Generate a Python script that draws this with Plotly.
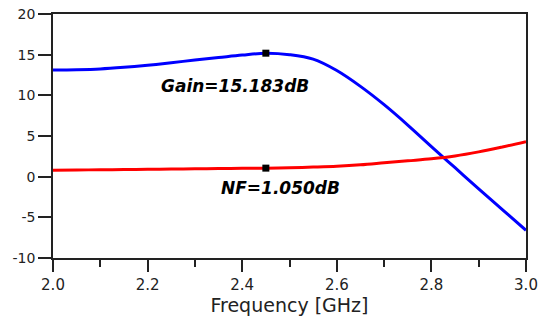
import plotly.graph_objects as go

freq = [2.00, 2.05, 2.10, 2.15, 2.20, 2.25, 2.30, 2.35, 2.40, 2.45, 2.50,
        2.55, 2.60, 2.65, 2.70, 2.75, 2.80, 2.85, 2.90, 2.95, 3.00]
gain_db = [13.10, 13.15, 13.25, 13.45, 13.70, 14.00, 14.35, 14.65, 14.95, 15.183, 15.00,
           14.45, 13.05, 11.10, 8.85, 6.35, 3.70, 1.10, -1.50, -4.05, -6.60]
nf_db = [0.80, 0.82, 0.85, 0.87, 0.90, 0.93, 0.97, 1.00, 1.02, 1.05, 1.10,
         1.18, 1.28, 1.45, 1.70, 1.95, 2.20, 2.55, 3.05, 3.65, 4.30]

y_tickvals = [-10, -5, 0, 5, 10, 15, 20]
y_ticktext = ["-10", "-5", "0", "5", "10", "15", "20"]

marker_freq = [2.45]
gain_marker = [15.183]
nf_marker = [1.050]
gain_label = "Gain=15.183dB"
nf_label = "NF=1.050dB"

font_main = "DejaVu Sans"

fig = go.Figure()
fig.add_trace(go.Scatter(x=freq, y=gain_db, mode="lines",
                         line=dict(color="#0000FF", width=3, shape="spline", smoothing=1.0),
                         showlegend=False))
fig.add_trace(go.Scatter(x=freq, y=nf_db, mode="lines",
                         line=dict(color="#FF0000", width=3, shape="spline", smoothing=1.0),
                         showlegend=False))
fig.add_trace(go.Scatter(x=marker_freq + marker_freq, y=gain_marker + nf_marker, mode="markers",
                         marker=dict(symbol="square", size=7, color="black"),
                         showlegend=False))

fig.add_annotation(x=2.385, y=11.2, text="<b><i>" + gain_label + "</i></b>", showarrow=False,
                   font=dict(family=font_main, size=17, color="black"))
fig.add_annotation(x=2.48, y=-1.45, text="<b><i>" + nf_label + "</i></b>", showarrow=False,
                   font=dict(family=font_main, size=17, color="black"))

# page body has an 8px default margin, so the figure is sized to fit the window
fig.update_layout(
    width=538, height=313,
    margin=dict(l=45, r=20, t=6, b=63),
    plot_bgcolor="white", paper_bgcolor="white",
    font=dict(family=font_main, color="#222"),
    xaxis=dict(range=[2.0, 3.0], dtick=0.2, tick0=2.0, tickformat=".1f",
               showgrid=False, zeroline=False, automargin=False,
               showline=True, linecolor="#222", linewidth=1.5, mirror=True,
               ticks="outside", ticklen=12, tickwidth=1.5, tickcolor="#222",
               minor=dict(dtick=0.1, ticks="outside", ticklen=7, tickwidth=1.5, tickcolor="#222", showgrid=False),
               tickfont=dict(size=15, color="#222"), ticklabeloverflow="allow",
               title=dict(text="Frequency [GHz]", font=dict(size=19, color="#222"), standoff=4)),
    yaxis=dict(range=[-10, 20], tickmode="array", tickvals=y_tickvals, ticktext=y_ticktext,
               showgrid=False, zeroline=False, automargin=False,
               showline=True, linecolor="#222", linewidth=1.5, mirror=True,
               ticks="outside", ticklen=13, tickwidth=1.5, tickcolor="#222",
               tickfont=dict(size=14, color="#222"), ticklabeloverflow="allow"),
)

fig.write_html("out.html")
